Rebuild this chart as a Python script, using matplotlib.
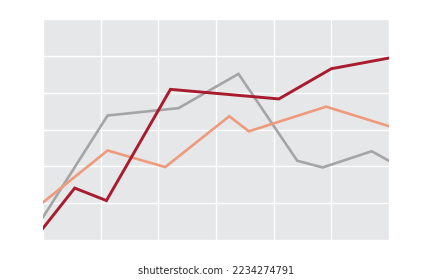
import matplotlib
matplotlib.use("Agg")
import matplotlib.pyplot as plt

# values (x in grid units 0-6, y in grid units 0-6)
red_x = [0, 0.55, 1.1, 2.21, 4.09, 5.0, 6.0]
red_y = [0.32, 1.41, 1.07, 4.09, 3.83, 4.65, 4.94]

gray_x = [0, 1.12, 2.35, 3.39, 4.41, 4.85, 5.7, 6.0]
gray_y = [0.62, 3.38, 3.58, 4.51, 2.15, 1.97, 2.41, 2.15]

salmon_x = [0, 1.12, 2.12, 3.23, 3.57, 4.91, 6.0]
salmon_y = [1.02, 2.43, 1.98, 3.36, 2.95, 3.62, 3.09]

fig = plt.figure(figsize=(4.33, 2.8), dpi=100)
ax = fig.add_axes([43 / 433, 40 / 280, 346 / 433, 221 / 280])
ax.set_facecolor("#e6e7e9")

ax.plot(gray_x, gray_y, color="#a5a5a7", lw=1.9, solid_joinstyle="miter")
ax.plot(salmon_x, salmon_y, color="#ef9a7c", lw=1.9, solid_joinstyle="miter")
ax.plot(red_x, red_y, color="#a81c2e", lw=2.1, solid_joinstyle="miter")

ax.set_xlim(0, 6)
ax.set_ylim(0, 6)
ax.set_xticks(range(7))
ax.set_yticks(range(7))
ax.grid(color="white", lw=1.0)
ax.set_axisbelow(True)
ax.tick_params(length=0, labelbottom=False, labelleft=False)
for s in ax.spines.values():
    s.set_visible(False)

fig.text(0.5, 9.5 / 280, "shutterstock.com · 2234274791", ha="center", va="center",
         fontsize=7, color="#2a2a2a")

fig.savefig("out.png", dpi=100)
